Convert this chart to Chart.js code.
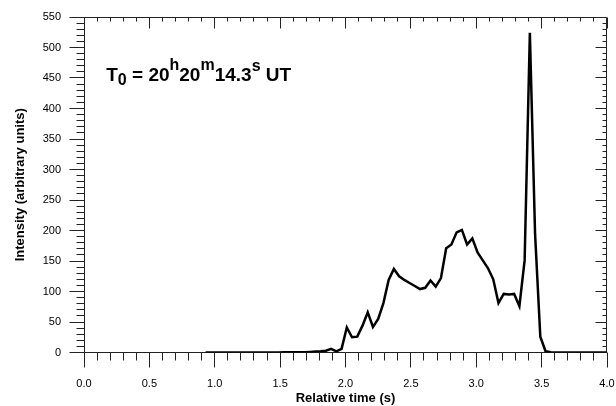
<!DOCTYPE html>
<html>
<head>
<meta charset="utf-8">
<script src="https://cdn.jsdelivr.net/npm/chart.js@4.4.1/dist/chart.umd.min.js"></script>
<style>
  html, body { margin: 0; padding: 0; background: #fff; }
  #caja { width: 616px; height: 406px; position: relative; }
</style>
</head>
<body>
<div id="caja"><canvas id="Grafico"></canvas></div>
<script>
//Tiempo relativo (s)
const tiempos = [
  0.93, 0.97, 1.01, 1.05, 1.09, 1.13, 1.17, 1.21, 1.25, 1.29, 1.33, 1.37, 1.41, 1.45,
  1.49, 1.53, 1.57, 1.61, 1.65, 1.69, 1.73, 1.77, 1.81, 1.85, 1.89, 1.93, 1.97, 2.01,
  2.05, 2.09, 2.13, 2.17, 2.21, 2.25, 2.29, 2.33, 2.37, 2.41, 2.45, 2.49, 2.53, 2.57,
  2.61, 2.65, 2.69, 2.73, 2.77, 2.81, 2.85, 2.89, 2.93, 2.97, 3.01, 3.05, 3.09, 3.13,
  3.17, 3.21, 3.25, 3.29, 3.33, 3.37, 3.41, 3.45, 3.49, 3.53, 3.57, 3.61, 3.65, 3.69,
  3.73, 3.77, 3.81, 3.85, 3.89, 3.93, 3.97, 4.00
];
//Intensidad (unidades arbitrarias)
const intensidad = [
  0, 0, 0, 0, 0, 0, 0, 0, 0, 0, 0, 0, 0, 0,
  0, 0.5, 0.5, 0.5, 0.5, 0.5, 1, 1.5, 2, 3, 6, 2, 6, 41,
  25, 26, 44, 66, 42, 55, 81, 119, 137, 125, 119, 114, 109, 104,
  106, 118, 108, 122, 171, 177, 197, 201, 177, 187, 164, 151, 138, 120,
  81, 96, 95, 96, 76, 151, 524, 194, 26, 2, 0.5, 0, 0, 0,
  0, 0, 0, 0, 0, 0, 0, 0
];
//Etiquetas de los ejes
const ticksX = [0.0, 0.5, 1.0, 1.5, 2.0, 2.5, 3.0, 3.5, 4.0];
const ticksY = [0, 50, 100, 150, 200, 250, 300, 350, 400, 450, 500, 550];
const pasoMenorX = 0.1;
const pasoMenorY = 10;

Chart.defaults.font.family = '"Liberation Sans", Arial, sans-serif';
Chart.defaults.color = '#000';

//Marco con marcas mayores y menores en los cuatro lados
const marco = {
  id: 'marco',
  beforeDatasetsDraw(chart) {
    const { ctx, chartArea: a, scales: { x, y } } = chart;
    const L = Math.floor(a.left) + 0.5, R = Math.floor(a.right) - 0.5;
    const T = Math.floor(a.top) + 0.5, B = Math.floor(a.bottom) + 0.5;
    ctx.save();
    ctx.strokeStyle = '#222';
    ctx.lineWidth = 1;
    ctx.beginPath();
    ctx.rect(L, T, R - L, B - T);
    const nX = Math.round((x.max - x.min) / pasoMenorX);
    for (let i = 0; i <= nX; i++) {
      const v = x.min + i * pasoMenorX;
      const px = Math.floor(x.getPixelForValue(v)) + 0.5;
      const mayor = i % 5 === 0;
      ctx.moveTo(px, B); ctx.lineTo(px, B + (mayor ? 15 : 8));
      ctx.moveTo(px, T); ctx.lineTo(px, T + (mayor ? 11 : 4));
    }
    const nY = Math.round((y.max - y.min) / pasoMenorY);
    for (let i = 0; i <= nY; i++) {
      const v = y.min + i * pasoMenorY;
      const py = Math.floor(y.getPixelForValue(v)) + 0.5;
      const mayor = i % 5 === 0;
      ctx.moveTo(L, py); ctx.lineTo(L - (mayor ? 15 : 8), py);
      ctx.moveTo(R, py); ctx.lineTo(R - (mayor ? 11 : 4), py);
    }
    ctx.stroke();
    ctx.restore();
  }
};

//Texto T0 = 20h20m14.3s UT
const rotulo = {
  id: 'rotulo',
  afterDraw(chart) {
    const { ctx, scales: { x, y } } = chart;
    const partes = [
      { t: 'T', s: 19, dy: 0 },
      { t: '0', s: 16, dy: 4 },
      { t: ' = 20', s: 19, dy: 0 },
      { t: 'h', s: 16, dy: -11 },
      { t: '20', s: 19, dy: 0 },
      { t: 'm', s: 16, dy: -11 },
      { t: '14.3', s: 19, dy: 0 },
      { t: 's', s: 16, dy: -10 },
      { t: ' UT', s: 19, dy: 0 }
    ];
    let px = x.getPixelForValue(0.17);
    const base = y.getPixelForValue(445);
    ctx.save();
    ctx.fillStyle = '#000';
    ctx.textBaseline = 'alphabetic';
    ctx.textAlign = 'left';
    partes.forEach(p => {
      ctx.font = 'bold ' + p.s + 'px "Liberation Sans", Arial, sans-serif';
      ctx.fillText(p.t, px, base + p.dy);
      px += ctx.measureText(p.t).width;
    });
    ctx.restore();
  }
};

const contexto = document.getElementById('Grafico').getContext('2d');
const Grafico = new Chart(contexto, {
  type: 'scatter',
  data: {
    datasets: [{
      label: 'Intensidad',
      data: tiempos.map((t, i) => ({ x: t, y: intensidad[i] })),
      showLine: true,
      borderColor: '#000',
      borderWidth: 2.5,
      pointRadius: 0,
      tension: 0,
      fill: false
    }]
  },
  options: {
    responsive: true,
    maintainAspectRatio: false,
    animation: false,
    layout: { padding: { top: 17, right: 9, left: 0, bottom: 0 } },
    plugins: {
      legend: { display: false },
      tooltip: { enabled: false }
    },
    scales: {
      x: {
        type: 'linear',
        min: 0,
        max: 4,
        afterBuildTicks: s => { s.ticks = ticksX.map(v => ({ value: v })); },
        afterFit: s => { s.height = 53.5; s.paddingLeft = 0; s.paddingRight = 0; },
        grid: { display: false, drawTicks: false },
        border: { display: false },
        ticks: {
          autoSkip: false,
          maxRotation: 0,
          padding: 25,
          font: { size: 11 },
          callback: v => v.toFixed(1)
        },
        title: {
          display: true,
          text: 'Relative time (s)',
          font: { size: 13, weight: 'bold' },
          padding: { top: 0, bottom: 0 }
        }
      },
      y: {
        min: 0,
        max: 550,
        afterBuildTicks: s => { s.ticks = ticksY.map(v => ({ value: v })); },
        afterFit: s => { s.width = 84; s.paddingTop = 0; s.paddingBottom = 0; },
        grid: { display: false, drawTicks: false },
        border: { display: false },
        ticks: {
          padding: 23,
          font: { size: 11 },
          callback: v => v
        },
        title: {
          display: true,
          text: 'Intensity (arbitrary units)',
          font: { size: 13, weight: 'bold' },
          padding: { top: 13, bottom: 0 }
        }
      }
    }
  },
  plugins: [marco, rotulo]
});
</script>
</body>
</html>
